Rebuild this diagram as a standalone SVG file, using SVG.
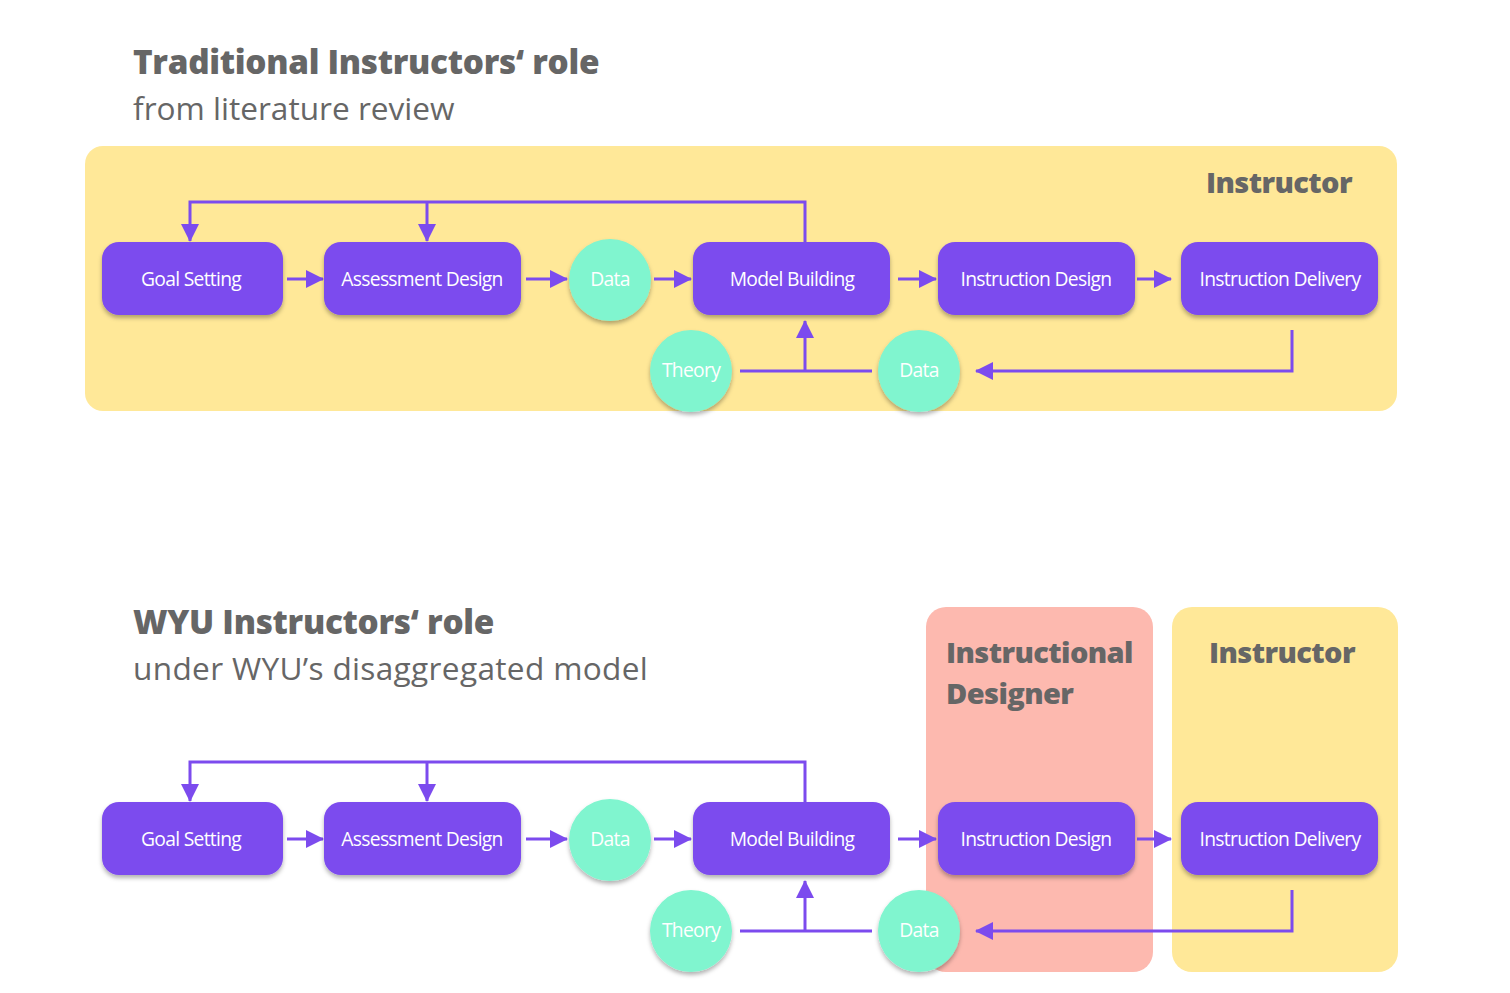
<svg xmlns="http://www.w3.org/2000/svg" width="1510" height="993" viewBox="0 0 1510 993">
<defs>
<style>
.title{font-family:"Open Sans","Liberation Sans",sans-serif;font-weight:800;font-size:33.3px;letter-spacing:-0.3px;fill:#666666}
.sub{font-family:"Open Sans","Liberation Sans",sans-serif;font-weight:400;font-size:31.6px;fill:#666666}
.sub2{letter-spacing:0.33px}
.lane{font-family:"Open Sans","Liberation Sans",sans-serif;font-weight:800;font-size:29px;letter-spacing:-0.6px;fill:#666666}
.box{fill:#7C4BEE;filter:url(#sh)}
.circ{fill:#80F5CF;filter:url(#sh)}
.lbl{font-family:"Open Sans","Liberation Sans",sans-serif;font-size:19.3px;letter-spacing:-0.7px;fill:#ffffff;text-anchor:middle;dominant-baseline:central}
.ln{fill:none;stroke:#7C4BEE;stroke-width:3}
.ar{marker-end:url(#ah)}
</style>
<filter id="sh" x="-20%" y="-20%" width="140%" height="150%">
<feDropShadow dx="0" dy="3" stdDeviation="2" flood-color="#000" flood-opacity="0.3"/>
</filter>
<marker id="ah" markerUnits="userSpaceOnUse" markerWidth="18" markerHeight="18" refX="17" refY="9" orient="auto">
<path d="M0,0 L18,9 L0,18 z" fill="#7C4BEE"/>
</marker>
</defs>
<rect width="1510" height="993" fill="#ffffff"/>

<!-- Titles -->
<text class="title" x="133" y="74">Traditional Instructors‘ role</text>
<text class="sub" x="133" y="120">from literature review</text>
<text class="title" x="133" y="634">WYU Instructors‘ role</text>
<text class="sub sub2" x="133" y="680">under WYU’s disaggregated model</text>

<!-- Lanes -->
<g id="lane-top-instructor">
<rect x="85" y="146" width="1312" height="265" rx="18" fill="#FFE898"/>
<text class="lane" x="1206" y="193">Instructor</text>
</g>
<g id="lane-bottom-designer">
<rect x="926" y="607" width="227" height="365" rx="20" fill="#FDB9AF"/>
<text class="lane" x="946" y="663">Instructional</text>
<text class="lane" x="946" y="704">Designer</text>
</g>
<g id="lane-bottom-instructor">
<rect x="1172" y="607" width="226" height="365" rx="20" fill="#FFE898"/>
<text class="lane" x="1209" y="663">Instructor</text>
</g>

<!-- Connectors -->
<g id="connectors">
<!-- top -->
<path class="ln ar" d="M805,242 V202 H190 V241"/>
<path class="ln ar" d="M427,202 V241"/>
<path class="ln ar" d="M287,279 H323"/>
<path class="ln ar" d="M526,279 H567"/>
<path class="ln ar" d="M654,279 H691"/>
<path class="ln ar" d="M898,279 H936"/>
<path class="ln ar" d="M1137,279 H1171"/>
<path class="ln ar" d="M1292,330 V371 H976"/>
<path class="ln" d="M740,371 H872"/>
<path class="ln ar" d="M805,371 V321"/>
<!-- bottom -->
<path class="ln ar" d="M805,802 V762 H190 V801"/>
<path class="ln ar" d="M427,762 V801"/>
<path class="ln ar" d="M287,839 H323"/>
<path class="ln ar" d="M526,839 H567"/>
<path class="ln ar" d="M654,839 H691"/>
<path class="ln ar" d="M898,839 H936"/>
<path class="ln ar" d="M1137,839 H1171"/>
<path class="ln ar" d="M1292,890 V931 H976"/>
<path class="ln" d="M740,931 H872"/>
<path class="ln ar" d="M805,931 V881"/>
</g>

<!-- Top nodes -->
<g id="t-goal"><rect class="box" x="102" y="242" width="181" height="73" rx="17"/><text class="lbl" x="191" y="278">Goal Setting</text></g>
<g id="t-assess"><rect class="box" x="324" y="242" width="197" height="73" rx="17"/><text class="lbl" x="422" y="278">Assessment Design</text></g>
<g id="t-data1"><circle class="circ" cx="610" cy="280" r="41"/><text class="lbl" x="610" y="278">Data</text></g>
<g id="t-model"><rect class="box" x="693" y="242" width="197" height="73" rx="17"/><text class="lbl" x="792" y="278">Model Building</text></g>
<g id="t-idesign"><rect class="box" x="938" y="242" width="197" height="73" rx="17"/><text class="lbl" x="1036" y="278">Instruction Design</text></g>
<g id="t-idelivery"><rect class="box" x="1181" y="242" width="197" height="73" rx="17"/><text class="lbl" x="1280" y="278">Instruction Delivery</text></g>
<g id="t-theory"><circle class="circ" cx="691" cy="371" r="41"/><text class="lbl" x="691" y="369">Theory</text></g>
<g id="t-data2"><circle class="circ" cx="919" cy="371" r="41"/><text class="lbl" x="919" y="369">Data</text></g>

<!-- Bottom nodes -->
<g id="b-goal"><rect class="box" x="102" y="802" width="181" height="73" rx="17"/><text class="lbl" x="191" y="838">Goal Setting</text></g>
<g id="b-assess"><rect class="box" x="324" y="802" width="197" height="73" rx="17"/><text class="lbl" x="422" y="838">Assessment Design</text></g>
<g id="b-data1"><circle class="circ" cx="610" cy="840" r="41"/><text class="lbl" x="610" y="838">Data</text></g>
<g id="b-model"><rect class="box" x="693" y="802" width="197" height="73" rx="17"/><text class="lbl" x="792" y="838">Model Building</text></g>
<g id="b-idesign"><rect class="box" x="938" y="802" width="197" height="73" rx="17"/><text class="lbl" x="1036" y="838">Instruction Design</text></g>
<g id="b-idelivery"><rect class="box" x="1181" y="802" width="197" height="73" rx="17"/><text class="lbl" x="1280" y="838">Instruction Delivery</text></g>
<g id="b-theory"><circle class="circ" cx="691" cy="931" r="41"/><text class="lbl" x="691" y="929">Theory</text></g>
<g id="b-data2"><circle class="circ" cx="919" cy="931" r="41"/><text class="lbl" x="919" y="929">Data</text></g>
</svg>
